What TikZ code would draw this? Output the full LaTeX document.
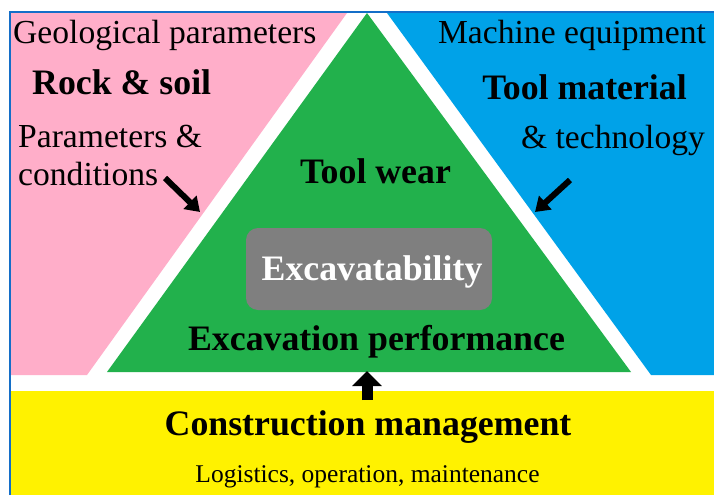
\documentclass[tikz,border=0pt]{standalone}
\usepackage{fontspec}
\setmainfont{Liberation Serif}
\usetikzlibrary{arrows.meta}
\definecolor{pinkc}{RGB}{255,174,201}
\definecolor{bluec}{RGB}{0,162,232}
\definecolor{greenc}{RGB}{34,177,76}
\definecolor{yellowc}{RGB}{255,242,0}
\definecolor{grayc}{RGB}{127,127,127}
\definecolor{framec}{RGB}{20,110,200}
\tikzset{
  reg/.style={inner sep=0pt, font=\fontsize{33.6}{36}\selectfont},
  bld/.style={inner sep=0pt, font=\fontsize{35.8}{40}\selectfont\bfseries},
  small/.style={inner sep=0pt, font=\fontsize{25.5}{28}\selectfont},
  thinarrow/.style={line width=6pt, -{Triangle[length=14pt,width=18pt]}},
  thickarrow/.style={line width=11pt, -{Triangle[length=15pt,width=29pt]}},
}
\begin{document}
\begin{tikzpicture}[x=1pt,y=-1pt]
\useasboundingbox (0,0) rectangle (714,495);
\fill[white] (0,0) rectangle (714,495);
% regions
\fill[pinkc] (11,13) -- (347,13) -- (87,375) -- (11,375) -- cycle;
\fill[bluec] (387,13) -- (714,13) -- (714,375) -- (651,375) -- cycle;
\fill[greenc] (367,13) -- (631,372) -- (107,372) -- cycle;
\fill[yellowc] (11,391) rectangle (714,495);
% frame
\draw[framec, line width=2pt] (10,495) -- (10,12) -- (714,12);
% central box
\node[fill=grayc, rounded corners=12pt, minimum width=246pt, minimum height=82pt, inner sep=0pt] (box) at (369,269) {};
% texts
\node[reg, anchor=base west] (geo) at (13,44) {Geological parameters};
\node[bld, anchor=base west] (rock) at (32,94) {Rock \& soil};
\node[reg, anchor=base west] (par) at (18,147) {Parameters \&};
\node[reg, anchor=base west] (cond) at (18,185) {conditions};
\node[reg, anchor=base] (mach) at (572,44) {Machine equipment};
\node[bld, anchor=base] (toolm) at (584.5,99) {Tool material};
\node[reg, anchor=base] (tech) at (613,148) {\& technology};
\node[bld, anchor=base] (wear) at (375.5,183) {Tool wear};
\node[bld, anchor=base, text=white] (exc) at (372,280) {Excavatability};
\node[bld, anchor=base] (perf) at (376.5,350) {Excavation performance};
\node[bld, anchor=base] (cm) at (368,435) {Construction management};
\node[small, anchor=base] (log) at (367.5,482) {Logistics, operation, maintenance};
% arrows
\coordinate (la1) at (165,178);
\coordinate (la2) at (200,212);
\coordinate (ra1) at (570,180);
\coordinate (ra2) at (535,212);
\coordinate (ba1) at (367,400);
\coordinate (ba2) at (367,371);
\draw[thinarrow] (la1) -- (la2);
\draw[thinarrow] (ra1) -- (ra2);
\draw[thickarrow] (ba1) -- (ba2);
\end{tikzpicture}
\end{document}
